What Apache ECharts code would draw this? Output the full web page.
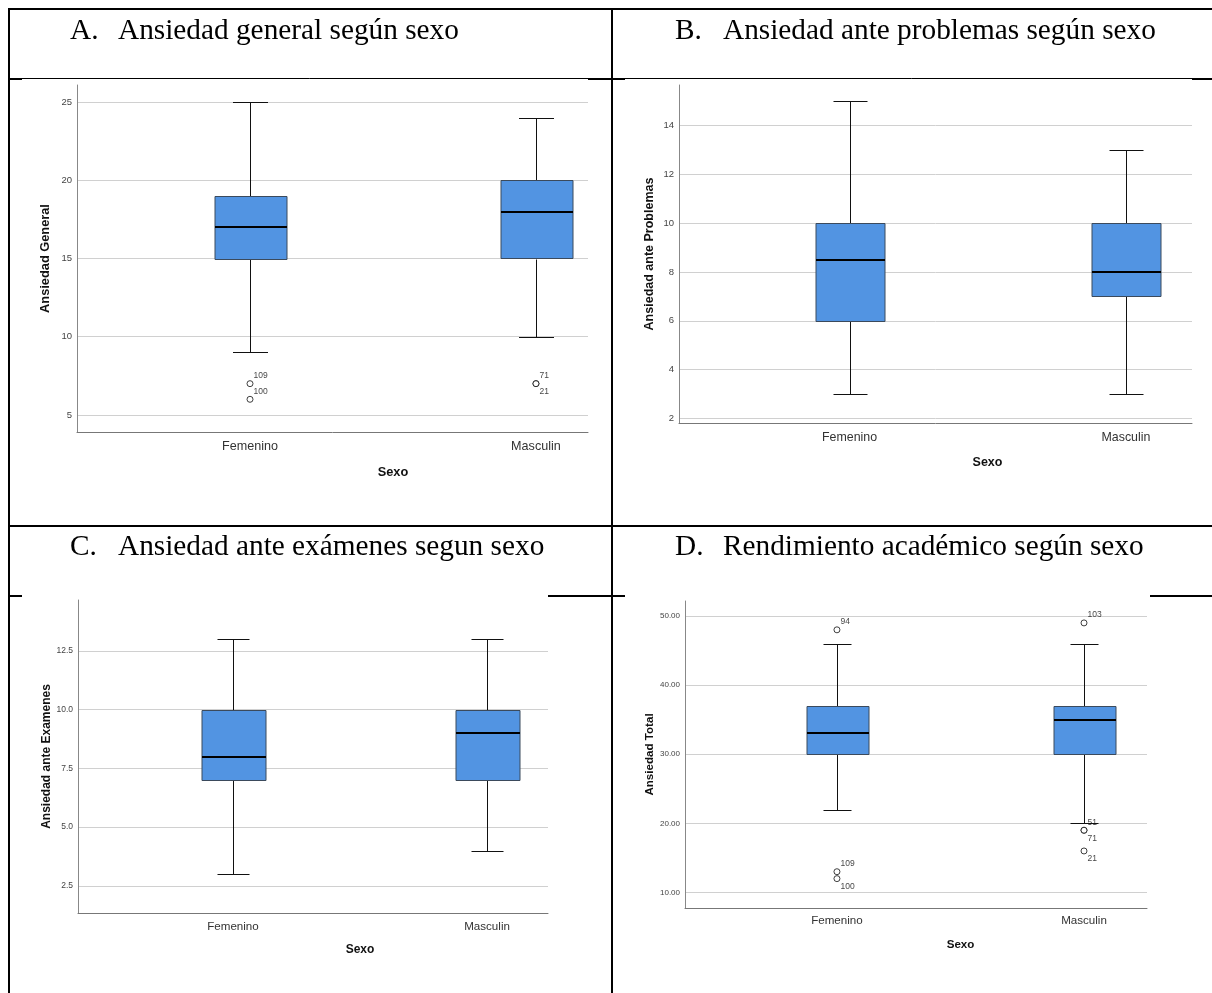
<!DOCTYPE html>
<html>
<head>
<meta charset="utf-8">
<script src="https://cdn.jsdelivr.net/npm/echarts@6/dist/echarts.min.js"></script>
<style>
html,body{margin:0;padding:0;background:#fff;}
#chart{width:1212px;height:993px;}
</style>
</head>
<body>
<div id="chart"></div>
<script>
// ---------- DATA ----------
const categories = ['Femenino', 'Masculin'];

// [min whisker, Q1, median, Q3, max whisker] per category
const boxA = [[9, 15, 17, 19, 25], [10, 15, 18, 20, 24]];
const boxB = [[3, 6, 8.5, 10, 15], [3, 7, 8, 10, 13]];
const boxC = [[3, 7, 8, 10, 13], [4, 7, 9, 10, 13]];
const boxD = [[22, 30, 33, 37, 46], [20, 30, 35, 37, 46]];

// outliers: [category index, value, case label]
const outA = [[0, 7, '109'], [0, 6, '100'], [1, 7, '71'], [1, 7, '21']];
const outB = [];
const outC = [];
const outD = [[0, 48, '94'], [0, 13, '109'], [0, 12, '100'], [1, 49, '103'], [1, 19, '51'], [1, 19, '71'], [1, 16, '21']];

// label side for each outlier label
const sideA = ['up', 'up', 'up', 'down'];
const sideB = [];
const sideC = [];
const sideD = ['up', 'up', 'down', 'up', 'up', 'down', 'down'];

// y tick labels
const ticksA = [5, 10, 15, 20, 25];
const ticksB = [2, 4, 6, 8, 10, 12, 14];
const ticksC = [2.5, 5, 7.5, 10, 12.5];
const ticksD = [10, 20, 30, 40, 50];

const yNames = ['Ansiedad General', 'Ansiedad ante Problemas', 'Ansiedad ante Examenes', 'Ansiedad Total'];
const xName = 'Sexo';

const titles = [
  ['A.', 'Ansiedad general según sexo'],
  ['B.', 'Ansiedad ante problemas según sexo'],
  ['C.', 'Ansiedad ante exámenes segun sexo'],
  ['D.', 'Rendimiento académico según sexo']
];

// ---------- LAYOUT / STYLE ----------
const SANS = 'Liberation Sans, Arial, sans-serif';
const SERIF = 'Liberation Serif, Times New Roman, serif';
const BOX_FILL = '#5294E2';

const panels = [
  { box: boxA, out: outA, side: sideA, ticks: ticksA, dec: 0,
    grid: {left: 77, top: 85, width: 511, height: 347},
    y: [3.91, 26.09], x: [-0.605, 1.182], halfW: 36, capHalf: 17.5,
    tickFs: 9.5, catFs: 12.6, nameFs: 12.8, yGap: 25, xGap: 34, catMargin: 8 },
  { box: boxB, out: outB, side: sideB, ticks: ticksB, dec: 0,
    grid: {left: 679, top: 85, width: 513, height: 338},
    y: [1.81, 15.67], x: [-0.617, 1.239], halfW: 34.5, capHalf: 17,
    tickFs: 9.5, catFs: 12.4, nameFs: 12.5, yGap: 23, xGap: 33, catMargin: 9 },
  { box: boxC, out: outC, side: sideC, ticks: ticksC, dec: 1,
    grid: {left: 78, top: 600, width: 470, height: 313},
    y: [1.34, 14.67], x: [-0.610, 1.240], halfW: 32, capHalf: 16,
    tickFs: 8.5, catFs: 11.6, nameFs: 12, yGap: 25, xGap: 31, catMargin: 8 },
  { box: boxD, out: outD, side: sideD, ticks: ticksD, dec: 2,
    grid: {left: 685, top: 601, width: 462, height: 307},
    y: [7.75, 52.17], x: [-0.615, 1.255], halfW: 31, capHalf: 14,
    tickFs: 8, catFs: 11.6, nameFs: 11.6, yGap: 25, xGap: 31, catMargin: 7 }
];

const grids = [], xAxes = [], yAxes = [], series = [];

panels.forEach(function (p, i) {
  grids.push(Object.assign({containLabel: false}, p.grid));
  // shift the x-axis title so it is centred between the two categories
  const ppu = p.grid.width / (p.x[1] - p.x[0]);
  const dx = (0.5 - (p.x[0] + p.x[1]) / 2) * ppu;
  xAxes.push({
    type: 'value', gridIndex: i, min: p.x[0], max: p.x[1],
    name: xName, nameLocation: 'middle', nameGap: p.xGap,
    nameTextStyle: {fontFamily: SANS, fontWeight: 'bold', fontSize: p.nameFs, color: '#111',
      padding: [0, 0, 0, Math.round(2 * dx)]},
    axisLine: {show: true, onZero: false, lineStyle: {color: '#777', width: 1}},
    axisTick: {show: false, customValues: [0, 1]},
    axisLabel: {customValues: [0, 1], margin: p.catMargin, fontFamily: SANS, fontSize: p.catFs, color: '#333',
      formatter: function (v) { return categories[Math.round(v)]; }},
    splitLine: {show: false}
  });
  yAxes.push({
    type: 'value', gridIndex: i, min: p.y[0], max: p.y[1],
    name: yNames[i], nameLocation: 'middle', nameGap: p.yGap,
    nameTextStyle: {fontFamily: SANS, fontWeight: 'bold', fontSize: p.nameFs, color: '#111'},
    axisLine: {show: true, onZero: false, lineStyle: {color: '#888', width: 1}},
    axisTick: {show: false, customValues: p.ticks},
    axisLabel: {customValues: p.ticks, margin: 5, fontFamily: SANS, fontSize: p.tickFs, color: '#444',
      formatter: (function (d) { return function (v) { return Number(v).toFixed(d); }; })(p.dec)},
    splitLine: {show: true, lineStyle: {color: '#d0d0d0', width: 1}}
  });

  const boxData = p.box.map(function (b, k) { return [k].concat(b); });
  series.push({
    type: 'custom', xAxisIndex: i, yAxisIndex: i, silent: true, clip: false,
    encode: {x: 0, y: [1, 2, 3, 4, 5]},
    data: boxData,
    renderItem: (function (hw, ch) {
      return function (params, api) {
        const xv = api.value(0);
        const lo = api.coord([xv, api.value(1)]);
        const q1 = api.coord([xv, api.value(2)]);
        const md = api.coord([xv, api.value(3)]);
        const q3 = api.coord([xv, api.value(4)]);
        const hi = api.coord([xv, api.value(5)]);
        const cx = Math.round(lo[0]) + 0.5;
        const r = function (v) { return Math.round(v) + 0.5; };
        const ls = {stroke: '#111', lineWidth: 1};
        return {type: 'group', children: [
          {type: 'line', shape: {x1: cx, y1: r(hi[1]), x2: cx, y2: r(q3[1])}, style: ls},
          {type: 'line', shape: {x1: cx, y1: r(q1[1]), x2: cx, y2: r(lo[1])}, style: ls},
          {type: 'line', shape: {x1: cx - ch, y1: r(hi[1]), x2: cx + ch, y2: r(hi[1])}, style: ls},
          {type: 'line', shape: {x1: cx - ch, y1: r(lo[1]), x2: cx + ch, y2: r(lo[1])}, style: ls},
          {type: 'rect', shape: {x: Math.round(cx - hw), y: r(q3[1]), width: Math.round(2 * hw), height: Math.round(q1[1] - q3[1])},
            style: {fill: BOX_FILL, stroke: '#3b4a5c', lineWidth: 1}},
          {type: 'line', shape: {x1: Math.round(cx - hw), y1: Math.round(md[1]), x2: Math.round(cx - hw) + Math.round(2 * hw), y2: Math.round(md[1])},
            style: {stroke: '#000', lineWidth: 2.2}}
        ]};
      };
    })(p.halfW, p.capHalf)
  });

  if (p.out.length) {
    series.push({
      type: 'scatter', xAxisIndex: i, yAxisIndex: i, silent: true,
      symbol: 'circle', symbolSize: 6,
      itemStyle: {color: '#fff', borderColor: '#111', borderWidth: 1},
      data: p.out.map(function (o, k) {
        return {
          value: [o[0], o[1]],
          label: {show: true, formatter: o[2], position: 'right', distance: 0,
            offset: [0, p.side[k] === 'up' ? -8 : 8],
            fontFamily: SANS, fontSize: 8.5, color: '#111'}
        };
      })
    });
  }
});

// ---------- TABLE FRAME & TITLES ----------
function L(x1, y1, x2, y2, w) {
  return {type: 'line', silent: true, z: 100, shape: {x1: x1, y1: y1, x2: x2, y2: y2}, style: {stroke: '#000', lineWidth: w || 2}};
}
const frame = [
  L(9, 9, 1212, 9), L(9, 8, 9, 993), L(612, 8, 612, 993),
  L(9, 78.5, 1212, 78.5, 1),
  L(9, 79, 22, 79), L(588, 79, 625, 79), L(1192, 79, 1212, 79),
  L(9, 526, 1212, 526),
  L(9, 596, 22, 596), L(548, 596, 625, 596), L(1150, 596, 1212, 596)
];
const titlePos = [[70, 118, 31], [675, 723, 31], [70, 118, 547], [675, 723, 547]];
const titleEls = [];
titles.forEach(function (t, i) {
  const tp = titlePos[i];
  titleEls.push({type: 'text', silent: true, x: tp[0], y: tp[2],
    style: {text: t[0], fontFamily: SERIF, fontSize: 29.3, fill: '#000', verticalAlign: 'middle', align: 'left'}});
  titleEls.push({type: 'text', silent: true, x: tp[1], y: tp[2],
    style: {text: t[1], fontFamily: SERIF, fontSize: 29.3, fill: '#000', verticalAlign: 'middle', align: 'left'}});
});

const chart = echarts.init(document.getElementById('chart'), null, {renderer: 'canvas'});
chart.setOption({
  animation: false,
  backgroundColor: '#fff',
  grid: grids,
  xAxis: xAxes,
  yAxis: yAxes,
  series: series,
  graphic: frame.concat(titleEls)
});
</script>
</body>
</html>
